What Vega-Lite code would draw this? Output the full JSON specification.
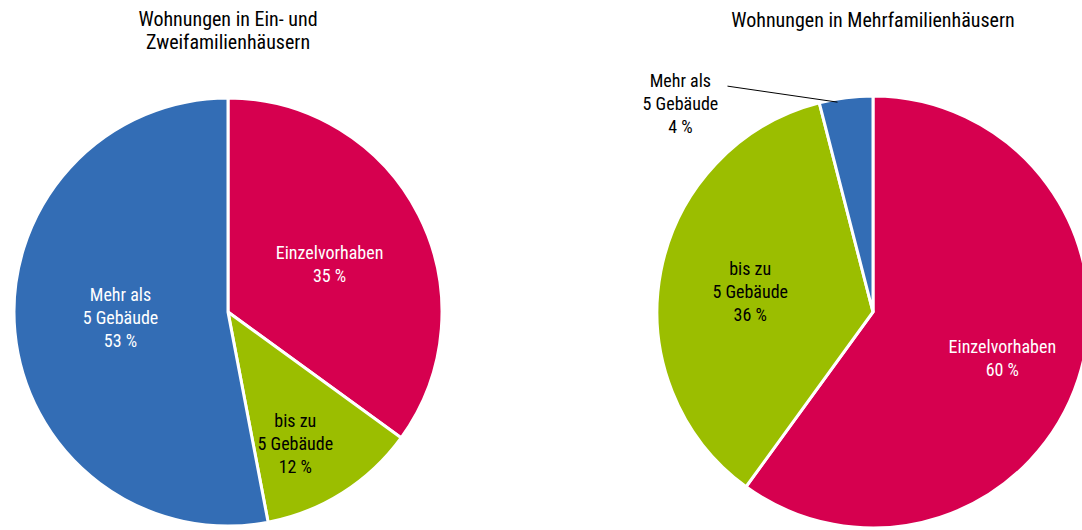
{
  "$schema": "https://vega.github.io/schema/vega-lite/v6.json",
  "background": "white",
  "padding": {"left": 8, "top": 10, "right": 0, "bottom": 0},
  "spacing": 194,
  "config": {
    "view": {"stroke": null},
    "font": "Roboto Condensed, Liberation Sans Narrow, DejaVu Sans Condensed, sans-serif",
    "title": {"font": "Roboto Condensed, Liberation Sans Narrow, DejaVu Sans Condensed, sans-serif", "fontSize": 20, "fontWeight": "normal", "color": "#000000", "lineHeight": 23, "anchor": "middle", "frame": "group"},
    "text": {"fontSize": 18, "lineBreak": "\n", "lineHeight": 23, "align": "center", "baseline": "middle"}
  },
  "datasets": {
    "ezfh": [
      {"kategorie": "Einzelvorhaben", "label": "Einzelvorhaben", "anteil": 35, "rang": 1},
      {"kategorie": "bis zu 5 Gebäude", "label": "bis zu\n5 Gebäude", "anteil": 12, "rang": 2},
      {"kategorie": "Mehr als 5 Gebäude", "label": "Mehr als\n5 Gebäude", "anteil": 53, "rang": 3}
    ],
    "mfh": [
      {"kategorie": "Einzelvorhaben", "label": "Einzelvorhaben", "anteil": 60, "rang": 1},
      {"kategorie": "bis zu 5 Gebäude", "label": "bis zu\n5 Gebäude", "anteil": 36, "rang": 2},
      {"kategorie": "Mehr als 5 Gebäude", "label": "Mehr als\n5 Gebäude", "anteil": 4, "rang": 3}
    ]
  },
  "hconcat": [
    {
      "width": 440,
      "height": 440,
      "title": {"text": ["Wohnungen in Ein- und", "Zweifamilienhäusern"], "offset": 39},
      "data": {"name": "ezfh"},
      "transform": [
        {"calculate": "datum.label + '\\n' + datum.anteil + ' %'", "as": "txt"},
        {"stack": "anteil", "groupby": [], "sort": [{"field": "rang", "order": "ascending"}], "as": ["s0", "s1"]},
        {"calculate": "(datum.s0 + datum.s1) / 2", "as": "mitte"}
      ],
      "layer": [
        {
          "mark": {"type": "arc", "radius": 214, "stroke": "white", "strokeWidth": 3},
          "encoding": {
            "theta": {"field": "anteil", "type": "quantitative", "stack": true},
            "order": {"field": "rang", "type": "quantitative"},
            "color": {"field": "kategorie", "type": "nominal", "legend": null,
              "scale": {"domain": ["Einzelvorhaben", "bis zu 5 Gebäude", "Mehr als 5 Gebäude"], "range": ["#D6004F", "#9BBE00", "#336DB5"]}}
          }
        },
        {
          "transform": [{"filter": "datum.kategorie === 'Einzelvorhaben'"}],
          "mark": {"type": "text", "radius": 114, "dy": -6.5, "color": "white"},
          "encoding": {
            "theta": {"field": "mitte", "type": "quantitative", "stack": null},
            "text": {"field": "txt"}
          }
        },
        {
          "transform": [{"filter": "datum.kategorie === 'bis zu 5 Gebäude'"}],
          "mark": {"type": "text", "radius": 148, "dx": -12, "dy": -15, "color": "black"},
          "encoding": {
            "theta": {"field": "mitte", "type": "quantitative", "stack": null},
            "text": {"field": "txt"}
          }
        },
        {
          "transform": [{"filter": "datum.kategorie === 'Mehr als 5 Gebäude'"}],
          "mark": {"type": "text", "radius": 108, "dy": -26, "color": "white"},
          "encoding": {
            "theta": {"field": "mitte", "type": "quantitative", "stack": null},
            "text": {"field": "txt"}
          }
        }
      ]
    },
    {
      "width": 440,
      "height": 440,
      "title": {"text": "Wohnungen in Mehrfamilienhäusern", "offset": 42},
      "data": {"name": "mfh"},
      "transform": [
        {"calculate": "datum.label + '\\n' + datum.anteil + ' %'", "as": "txt"},
        {"stack": "anteil", "groupby": [], "sort": [{"field": "rang", "order": "ascending"}], "as": ["s0", "s1"]},
        {"calculate": "(datum.s0 + datum.s1) / 2", "as": "mitte"}
      ],
      "layer": [
        {
          "mark": {"type": "arc", "radius": 216, "stroke": "white", "strokeWidth": 3},
          "encoding": {
            "theta": {"field": "anteil", "type": "quantitative", "stack": true},
            "order": {"field": "rang", "type": "quantitative"},
            "color": {"field": "kategorie", "type": "nominal", "legend": null,
              "scale": {"domain": ["Einzelvorhaben", "bis zu 5 Gebäude", "Mehr als 5 Gebäude"], "range": ["#D6004F", "#9BBE00", "#336DB5"]}}
          }
        },
        {
          "transform": [{"filter": "datum.kategorie === 'Einzelvorhaben'"}],
          "mark": {"type": "text", "radius": 136, "dy": -6, "color": "white"},
          "encoding": {
            "theta": {"field": "mitte", "type": "quantitative", "stack": null},
            "text": {"field": "txt"}
          }
        },
        {
          "transform": [{"filter": "datum.kategorie === 'bis zu 5 Gebäude'"}],
          "mark": {"type": "text", "radius": 125, "dy": -19, "color": "black"},
          "encoding": {
            "theta": {"field": "mitte", "type": "quantitative", "stack": null},
            "text": {"field": "txt"}
          }
        },
        {
          "transform": [{"filter": "datum.kategorie === 'Mehr als 5 Gebäude'"}],
          "mark": {"type": "text", "radius": 212, "dx": -166, "dy": -20, "color": "black"},
          "encoding": {
            "theta": {"field": "mitte", "type": "quantitative", "stack": null},
            "text": {"field": "txt"}
          }
        },
        {
          "transform": [
            {"filter": "datum.kategorie === 'Mehr als 5 Gebäude'"},
            {"calculate": "2 * PI * datum.mitte / 100", "as": "winkel"},
            {"calculate": "sin(datum.winkel)", "as": "px"},
            {"calculate": "cos(datum.winkel)", "as": "py"}
          ],
          "mark": {"type": "rule", "color": "black", "strokeWidth": 1, "xOffset": -9, "yOffset": 0, "x2Offset": -119, "y2Offset": -16},
          "encoding": {
            "x": {"field": "px", "type": "quantitative", "scale": {"domain": [-1.04, 1.04]}, "axis": null},
            "y": {"field": "py", "type": "quantitative", "scale": {"domain": [-1.04, 1.04]}, "axis": null},
            "x2": {"field": "px"},
            "y2": {"field": "py"}
          }
        }
      ]
    }
  ]
}
